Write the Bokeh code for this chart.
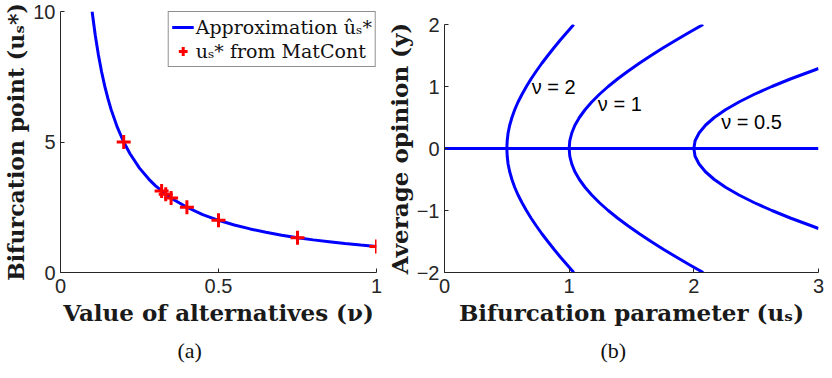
from bokeh.plotting import figure
from bokeh.layouts import row
from bokeh.models import Range1d, FixedTicker, Label, Legend, LegendItem, Title
from bokeh.embed import file_html
from bokeh.resources import INLINE

# ---------------- data: panel (a) ----------------
nu_curve = [0.10, 0.11, 0.12, 0.13, 0.14, 0.15, 0.16, 0.18, 0.20, 0.22, 0.25, 0.28,
            0.30, 0.33, 0.36, 0.40, 0.45, 0.50, 0.55, 0.60, 0.65, 0.70, 0.75, 0.80,
            0.85, 0.90, 0.95, 1.00]
us_curve = [10.0, 9.09, 8.33, 7.69, 7.14, 6.67, 6.25, 5.56, 5.00, 4.55, 4.00, 3.57,
            3.33, 3.03, 2.78, 2.50, 2.22, 2.00, 1.82, 1.67, 1.54, 1.43, 1.33, 1.25,
            1.18, 1.11, 1.05, 1.00]
nu_matcont = [0.20, 0.32, 0.333, 0.35, 0.40, 0.50, 0.75, 1.00]
us_matcont = [5.00, 3.125, 3.00, 2.857, 2.50, 2.00, 1.333, 1.00]

a_xticks = [0, 0.5, 1]
a_yticks = [0, 5, 10]

# ---------------- data: panel (b) ----------------
y_branch = [-2.0, -1.875, -1.75, -1.625, -1.5, -1.375, -1.25, -1.125, -1.0, -0.875,
            -0.75, -0.625, -0.5, -0.375, -0.25, -0.125, 0.0, 0.125, 0.25, 0.375, 0.5,
            0.625, 0.75, 0.875, 1.0, 1.125, 1.25, 1.375, 1.5, 1.625, 1.75, 1.875, 2.0]
us_nu2 = [1.037, 0.983, 0.929, 0.878, 0.829, 0.781, 0.737, 0.695, 0.657, 0.622,
          0.590, 0.563, 0.541, 0.523, 0.510, 0.503, 0.500, 0.503, 0.510, 0.523, 0.541,
          0.563, 0.590, 0.622, 0.657, 0.695, 0.737, 0.781, 0.829, 0.878, 0.929, 0.983, 1.037]
us_nu1 = [2.075, 1.965, 1.859, 1.755, 1.657, 1.563, 1.474, 1.390, 1.313, 1.243,
          1.181, 1.127, 1.082, 1.046, 1.021, 1.005, 1.000, 1.005, 1.021, 1.046, 1.082,
          1.127, 1.181, 1.243, 1.313, 1.390, 1.474, 1.563, 1.657, 1.755, 1.859, 1.965, 2.075]
y_branch_05 = [-1.29, -1.25, -1.125, -1.0, -0.875, -0.75, -0.625, -0.5, -0.375, -0.25,
               -0.125, 0.0, 0.125, 0.25, 0.375, 0.5, 0.625, 0.75, 0.875, 1.0, 1.125,
               1.25, 1.29]
us_nu05 = [3.000, 2.947, 2.779, 2.626, 2.486, 2.362, 2.254, 2.164, 2.093, 2.042,
           2.010, 2.000, 2.010, 2.042, 2.093, 2.164, 2.254, 2.362, 2.486, 2.626, 2.779,
           2.947, 3.000]
trivial_u = [0.0, 3.0]
trivial_y = [0.0, 0.0]

nu_labels = ["ν = 2", "ν = 1", "ν = 0.5"]
b_xticks = [0, 1, 2, 3]
b_yticks = [-2, -1, 0, 1, 2]

BLUE = "#0000ff"
RED = "#ff0000"
AX = "#262626"


def style(p, xticks, yticks, ylabel_size):
    p.grid.visible = False
    p.outline_line_color = None
    p.background_fill_color = "white"
    p.border_fill_color = "white"
    for ax in (p.xaxis[0], p.yaxis[0]):
        ax.axis_line_color = AX
        ax.axis_line_width = 1
        ax.major_tick_line_color = AX
        ax.major_tick_in = 4
        ax.major_tick_out = 0
        ax.minor_tick_line_color = None
        ax.major_label_text_font = "Liberation Sans"
        ax.major_label_text_font_size = "20px"
        ax.major_label_text_color = AX
        ax.axis_label_text_font = "DejaVu Serif"
        ax.axis_label_text_font_style = "bold"
        ax.axis_label_text_color = "#1a1a1a"
    p.xaxis[0].axis_label_text_font_size = "23px"
    p.yaxis[0].axis_label_text_font_size = ylabel_size
    p.xaxis[0].major_label_standoff = 6
    p.xaxis[0].axis_label_standoff = 3
    p.yaxis[0].major_label_standoff = 5
    p.yaxis[0].axis_label_standoff = 1
    p.xaxis[0].ticker = FixedTicker(ticks=xticks)
    p.yaxis[0].ticker = FixedTicker(ticks=yticks)


def caption(p, text, offset):
    p.add_layout(Title(text=text, align="left", offset=offset, standoff=15,
                       text_font="Liberation Serif", text_font_size="22px",
                       text_font_style="normal", text_color="#111111"), "below")


# ---------------- panel (a) ----------------
p1 = figure(width=382, height=370, output_backend="svg", toolbar_location=None,
            x_range=Range1d(0, 1), y_range=Range1d(0, 10), frame_align=False,
            min_border_left=55, min_border_right=6, min_border_top=11, min_border_bottom=97)
style(p1, a_xticks, a_yticks, "22px")
p1.xaxis.axis_label = "Value of alternatives (ν)"
p1.yaxis.axis_label = "Bifurcation point (uₛ*)"

r_line = p1.line(nu_curve, us_curve, line_color=BLUE, line_width=3)
r_pts = p1.scatter(nu_matcont, us_matcont, marker="cross", size=14,
                   line_color=RED, line_width=3)

leg = Legend(items=[LegendItem(label="Approximation ûₛ*", renderers=[r_line]),
                    LegendItem(label="uₛ* from MatCont", renderers=[r_pts])],
             location="top_right")
leg.margin = 0
leg.padding = 3
leg.spacing = 0
leg.glyph_width = 22
leg.glyph_height = 24
leg.label_height = 24
leg.label_standoff = 2
leg.label_text_font = "DejaVu Serif"
leg.label_text_font_size = "19px"
leg.label_text_color = "#111111"
leg.border_line_color = "#222222"
leg.border_line_width = 1
leg.background_fill_color = "white"
leg.background_fill_alpha = 1
p1.add_layout(leg)
caption(p1, "(a)", 117)

# ---------------- panel (b) ----------------
p2 = figure(width=442, height=370, output_backend="svg", toolbar_location=None,
            x_range=Range1d(0, 3), y_range=Range1d(-2, 2), frame_align=False,
            min_border_left=57, min_border_right=6, min_border_top=24, min_border_bottom=98)
style(p2, b_xticks, b_yticks, "23px")
p2.xaxis.axis_label = "Bifurcation parameter (uₛ)"
p2.yaxis.axis_label = "Average opinion (y)"

p2.line(trivial_u, trivial_y, line_color=BLUE, line_width=3)
p2.line(us_nu2, y_branch, line_color=BLUE, line_width=3)
p2.line(us_nu1, y_branch, line_color=BLUE, line_width=3)
p2.line(us_nu05, y_branch_05, line_color=BLUE, line_width=3)

for txt, xx, yy in zip(nu_labels, [0.70, 1.23, 2.22], [1.0, 0.72, 0.42]):
    p2.add_layout(Label(x=xx, y=yy, text=txt, text_align="left", text_baseline="middle",
                        text_font="Liberation Sans", text_font_size="20px",
                        text_color="black"))
caption(p2, "(b)", 156)

layout = row(p1, p2)
open("out.html", "w").write(file_html(layout, INLINE))
